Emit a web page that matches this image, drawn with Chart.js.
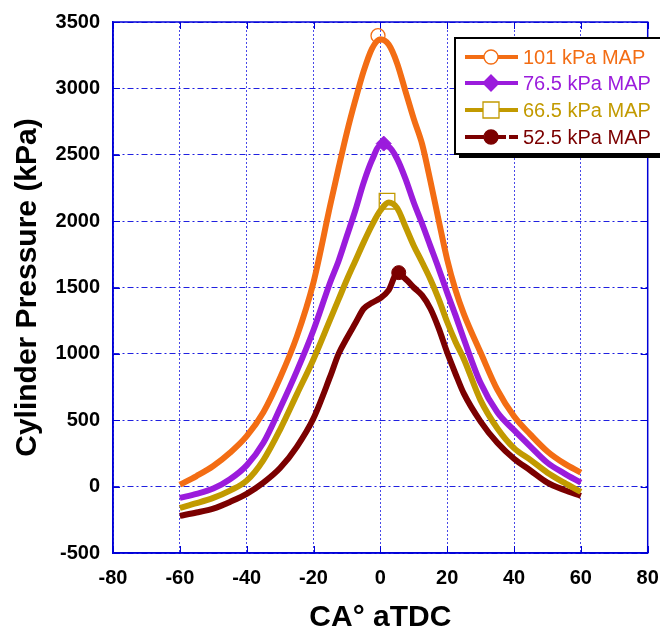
<!DOCTYPE html>
<html>
<head>
<meta charset="utf-8">
<script src="https://cdn.jsdelivr.net/npm/chart.js@4.4.0/dist/chart.umd.min.js"></script>
<style>
body{margin:0;background:#fff;}
#wrap{width:660px;height:633px;}
</style>
</head>
<body>
<div id="wrap"><canvas id="pressureChart" width="660" height="633"></canvas></div>
<script>
// crank angle (deg aTDC) shared by all curves
const crankAngle = [-60,-55,-50,-45,-40,-35,-30,-25,-20,-15,-12.5,-10,-7.5,-5,-2.5,0,2.5,5,7.5,10,12.5,15,17.5,20,22.5,25,30,35,40,45,50,55,60];

// cylinder pressure, kPa
const map101  = [15,80,155,255,380,560,820,1130,1540,2120,2400,2670,2910,3130,3300,3370,3330,3190,2980,2770,2580,2300,2000,1710,1480,1300,1010,730,530,390,265,175,105];
const map765  = [-85,-55,-15,55,160,330,590,870,1180,1540,1700,1890,2080,2290,2460,2570,2560,2470,2320,2140,1980,1810,1640,1460,1290,1110,780,560,425,300,180,100,30];
const map665  = [-160,-125,-85,-30,45,200,430,695,960,1260,1410,1560,1700,1840,1970,2080,2140,2100,1960,1815,1690,1560,1410,1240,1090,960,650,440,290,200,105,30,-40];
const map525  = [-220,-195,-165,-115,-55,30,140,300,515,830,1000,1120,1230,1340,1385,1420,1480,1605,1565,1500,1440,1340,1190,1010,850,700,490,330,210,120,30,-25,-70];

// peak markers
const peakAngle = [-0.7, 1, 2, 5.5];
const peakKPa = [3397, 2584, 2150, 1612];

const seriesNames = ['101 kPa MAP','76.5 kPa MAP','66.5 kPa MAP','52.5 kPa MAP'];
const seriesColors = ['#f36d14','#9b1cdc','#c29a00','#7b0000'];

const xTicks = [-80,-60,-40,-20,0,20,40,60,80];
const yTicks = [-500,0,500,1000,1500,2000,2500,3000,3500];

function toPoints(ys){
    return crankAngle.map((x,i) => ({x:x, y:ys[i]}));
}

const lineSets = [map101, map765, map665, map525].map(function(ys,i){
    return {
        label: seriesNames[i],
        data: toPoints(ys),
        borderColor: seriesColors[i],
        borderWidth: 6,
        pointRadius: 0,
        fill: false,
        cubicInterpolationMode: 'monotone'
    };
});

const markerStyles = [
    {pointStyle:'circle', radius:7, fill:'rgba(0,0,0,0)', bw:1.3},
    {pointStyle:'rectRot', radius:7.5, fill:seriesColors[1], bw:1},
    {pointStyle:'rect', radius:11, fill:'rgba(0,0,0,0)', bw:1.3},
    {pointStyle:'circle', radius:7, fill:seriesColors[3], bw:1}
];

const markerSets = peakAngle.map(function(x,i){
    return {
        label: seriesNames[i] + ' peak',
        data: [{x:x, y:peakKPa[i]}],
        showLine: false,
        pointStyle: markerStyles[i].pointStyle,
        pointRadius: markerStyles[i].radius,
        pointBackgroundColor: markerStyles[i].fill,
        pointBorderColor: seriesColors[i],
        pointBorderWidth: markerStyles[i].bw,
        borderColor: seriesColors[i]
    };
});

const frameBlue = '#0000d8';
const tickFont = { family: '"Liberation Sans", Arial, sans-serif', size: 20, weight: 'bold' };

const frameAndLegend = {
    id: 'frameAndLegend',
    beforeDatasetsDraw(chart){
        const ctx = chart.ctx;
        const a = chart.chartArea;
        const xs = chart.scales.x, ys = chart.scales.y;
        ctx.save();
        ctx.strokeStyle = frameBlue;
        ctx.lineWidth = 1.5;
        ctx.strokeRect(a.left, a.top, a.right - a.left, a.bottom - a.top);
        ctx.lineWidth = 1;
        ctx.beginPath();
        xTicks.forEach(function(v){
            const px = Math.round(xs.getPixelForValue(v)) + 0.5;
            ctx.moveTo(px, a.bottom); ctx.lineTo(px, a.bottom - 7);
            ctx.moveTo(px, a.top); ctx.lineTo(px, a.top + 7);
        });
        yTicks.forEach(function(v){
            const py = Math.round(ys.getPixelForValue(v)) + 0.5;
            ctx.moveTo(a.left, py); ctx.lineTo(a.left + 7, py);
            ctx.moveTo(a.right, py); ctx.lineTo(a.right - 7, py);
        });
        ctx.stroke();
        ctx.restore();
    },
    afterDraw(chart){
        const ctx = chart.ctx;
        const left = 455, top = 38, w = 230, h = 116;
        ctx.save();
        ctx.fillStyle = '#000';
        ctx.fillRect(left + 4, top + 4, w, h);
        ctx.fillStyle = '#fff';
        ctx.fillRect(left, top, w, h);
        ctx.lineWidth = 2;
        ctx.strokeStyle = '#000';
        ctx.strokeRect(left, top, w, h);

        const rows = [57, 83, 110, 137];
        ctx.font = '20px "Liberation Sans", Arial, sans-serif';
        ctx.textBaseline = 'middle';
        rows.forEach(function(y, i){
            const c = seriesColors[i];
            ctx.strokeStyle = c;
            ctx.lineWidth = 4;
            ctx.setLineDash(i === 3 ? [19, 3] : []);
            ctx.beginPath();
            ctx.moveTo(465, y); ctx.lineTo(518, y);
            ctx.stroke();
            ctx.setLineDash([]);
            const m = markerStyles[i];
            ctx.lineWidth = 1.3;
            ctx.fillStyle = m.fill === 'rgba(0,0,0,0)' ? '#fff' : m.fill;
            ctx.beginPath();
            if (i === 0 || i === 3) {
                ctx.arc(491, y, 7, 0, Math.PI * 2);
            } else if (i === 1) {
                ctx.moveTo(491, y - 8); ctx.lineTo(499, y); ctx.lineTo(491, y + 8); ctx.lineTo(483, y);
                ctx.closePath();
            } else {
                ctx.rect(483, y - 8, 16, 16);
            }
            ctx.fill();
            ctx.stroke();
            ctx.fillStyle = c;
            ctx.fillText(seriesNames[i], 523, y + 1);
        });
        ctx.restore();
    }
};

new Chart(document.getElementById('pressureChart'), {
    type: 'line',
    data: { datasets: lineSets.concat(markerSets) },
    options: {
        responsive: false,
        animation: false,
        devicePixelRatio: 1,
        layout: { padding: { top: 22, right: 10, left: 0, bottom: 0 } },
        plugins: {
            legend: { display: false },
            tooltip: { enabled: false }
        },
        scales: {
            x: {
                type: 'linear',
                min: -80, max: 80,
                afterFit: function(s){ s.height = 80; s.paddingLeft = 0; s.paddingRight = 0; },
                afterBuildTicks: function(s){ s.ticks = xTicks.map(v => ({value: v})); },
                grid: { color: '#4848e8', lineWidth: 1, drawTicks: false },
                border: { color: frameBlue, width: 1.5, dash: [2, 2] },
                ticks: {
                    padding: 13,
                    color: '#000',
                    font: tickFont,
                    callback: v => String(v)
                },
                title: {
                    display: true,
                    text: 'CA\u00b0 aTDC',
                    color: '#000',
                    padding: { top: 0, bottom: 0 },
                    font: { family: '"Liberation Sans", Arial, sans-serif', size: 30, weight: 'bold', lineHeight: 1 }
                }
            },
            y: {
                type: 'linear',
                min: -500, max: 3500,
                afterFit: function(s){ s.width = 113; s.paddingTop = 0; s.paddingBottom = 0; },
                afterBuildTicks: function(s){ s.ticks = yTicks.map(v => ({value: v})); },
                grid: { color: '#2020e0', lineWidth: 1, drawTicks: false },
                border: { color: frameBlue, width: 1.5, dash: [6, 3, 2, 3] },
                ticks: {
                    padding: 13,
                    color: '#000',
                    font: tickFont,
                    callback: v => String(v)
                },
                title: {
                    display: true,
                    text: 'Cylinder Pressure (kPa)',
                    color: '#000',
                    padding: { top: 10, bottom: 0 },
                    font: { family: '"Liberation Sans", Arial, sans-serif', size: 30, weight: 'bold', lineHeight: 1.2 }
                }
            }
        }
    },
    plugins: [frameAndLegend]
});
</script>
</body>
</html>
